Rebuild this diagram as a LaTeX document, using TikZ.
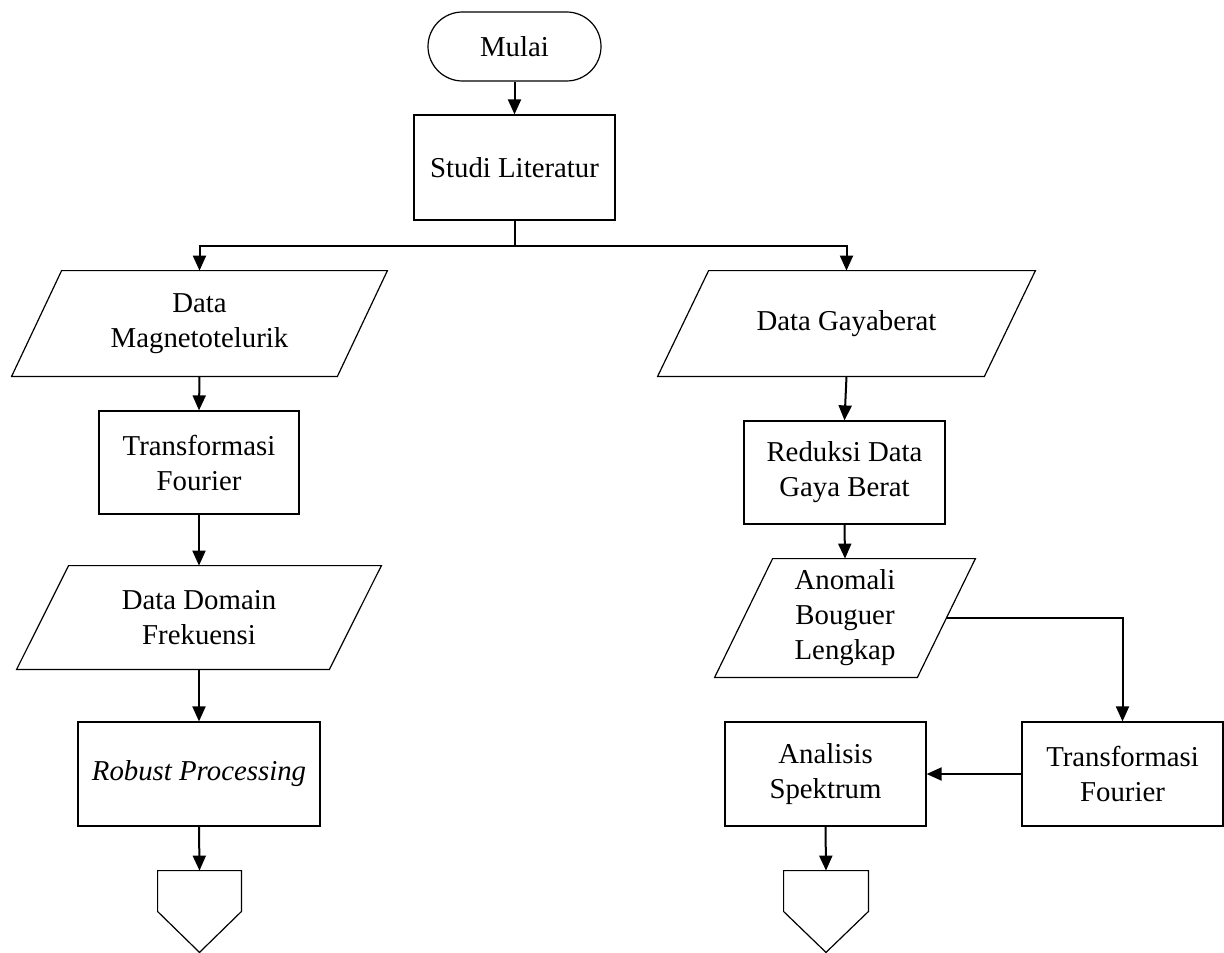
\documentclass[tikz,border=0pt]{standalone}
\usepackage{fontspec}
\setmainfont{Liberation Serif}
\usetikzlibrary{arrows.meta,calc}
\newcommand\parashape[2]{\draw[edgeline] (#1.south west) -- ([xshift=#2]#1.north west) -- (#1.north east) -- ([xshift=-#2]#1.south east) -- cycle;}
\newcommand\offpage[1]{\draw[edgeline] (#1.north west) -- (#1.north east) -- (#1.east) -- (#1.south) -- (#1.west) -- cycle;}
\begin{document}
\begin{tikzpicture}[x=0.5pt,y=-0.5pt,
  every node/.style={font=\fontsize{14.4pt}{17.5pt}\selectfont, align=center, inner sep=0pt},
  edgeline/.style={line width=0.6pt, line join=miter},
  box/.style={draw, edgeline, minimum width=100.5pt, minimum height=52pt},
  io/.style={minimum height=52.5pt},
  opc/.style={minimum width=41.5pt, minimum height=40.5pt},
  conn/.style={line width=1pt, -{Triangle[length=7.5pt,width=6.5pt]}},
  plainconn/.style={line width=1pt}]
\fill[white] (0,0) rectangle (1224,952);
\useasboundingbox (0,0) rectangle (1224,952);

% left column
\node[draw, edgeline, rounded corners=17.25pt, minimum width=86.5pt, minimum height=34.5pt] (mulai) at (514.5,46.5) {Mulai};
\node[box, minimum height=52.5pt] (studi) at (514.5,167.5) {Studi Literatur};
\coordinate (junc) at (514.5,246);

\node[io, minimum width=187.5pt] (dm) at (199.5,323.5) {Data\\Magnetotelurik};
\parashape{dm}{25pt}
\node[box, minimum width=100pt, minimum height=51.5pt] (tf1) at (199,462.5) {Transformasi\\Fourier};
\node[io, minimum width=182pt, minimum height=51.5pt] (dd) at (199,617.5) {Data Domain\\Frekuensi};
\parashape{dd}{26pt}
\node[box, minimum width=121pt] (rp) at (199,774) {\itshape Robust Processing};
\node[opc] (op1) at (199.5,911.5) {};
\offpage{op1}

% right column
\node[io, minimum width=188.5pt] (dg) at (846.5,323.5) {Data Gayaberat};
\parashape{dg}{25.5pt}
\node[box, minimum height=51.5pt] (rd) at (844.5,472.5) {Reduksi Data\\Gaya Berat};
\node[io, minimum width=130pt, minimum height=59pt] (an) at (845,618) {Anomali\\Bouguer\\Lengkap};
\parashape{an}{29pt}
\node[box] (tf2) at (1122.5,774) {Transformasi\\Fourier};
\node[box] (as) at (825.5,774) {Analisis\\Spektrum};
\node[opc, minimum width=42pt] (op2) at (826,911.5) {};
\offpage{op2}
\coordinate (anout) at ([xshift=-14.5pt]an.east);

% connectors
\draw[conn] (mulai.south) -- (studi.north);
\draw[plainconn] (studi.south) -- (junc);
\draw[conn] (junc) -| (dm.north);
\draw[conn] (junc) -| (dg.north);
\draw[conn] (dm.south) -- (tf1.north);
\draw[conn] (tf1.south) -- (dd.north);
\draw[conn] (dd.south) -- (rp.north);
\draw[conn] (rp.south) -- (op1.north);
\draw[conn] (dg.south) -- (rd.north);
\draw[conn] (rd.south) -- (an.north);
\draw[conn] (anout) -| (tf2.north);
\draw[conn] (tf2.west) -- (as.east);
\draw[conn] (as.south) -- (op2.north);
\end{tikzpicture}
\end{document}
